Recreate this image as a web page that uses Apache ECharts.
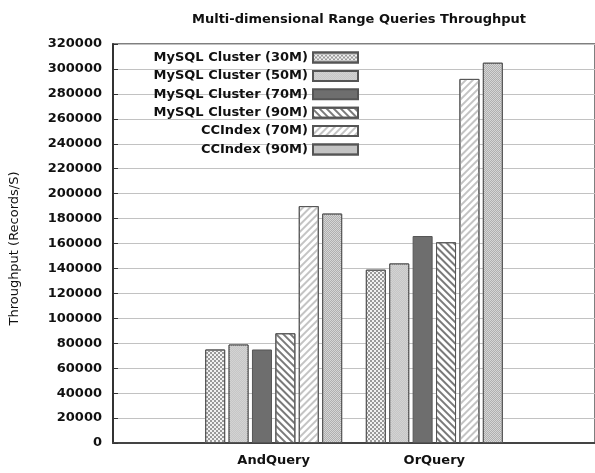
<!DOCTYPE html>
<html>
<head>
<meta charset="utf-8">
<script src="https://cdn.jsdelivr.net/npm/echarts@6/dist/echarts.min.js"></script>
<style>html,body{margin:0;padding:0;background:#fff;}#c{width:595px;height:473px;}</style>
</head>
<body>
<div id="c"></div>
<script>
const categories = ['AndQuery', 'OrQuery'];
const seriesNames = ['MySQL Cluster (30M)', 'MySQL Cluster (50M)', 'MySQL Cluster (70M)', 'MySQL Cluster (90M)', 'CCIndex (70M)', 'CCIndex (90M)'];
const mysql30 = [75000, 139000];
const mysql50 = [79000, 144000];
const mysql70 = [75000, 166000];
const mysql90 = [88000, 161000];
const ccindex70 = [190000, 292000];
const ccindex90 = [184000, 305000];
const yMin = 0, yMax = 320000, yStep = 20000;

const values = [mysql30, mysql50, mysql70, mysql90, ccindex70, ccindex90];
const styles = [
  { color: '#f2f2f2', decal: { symbol: 'rect', symbolSize: 1, color: '#9a9a9a', dashArrayX: [[2, 2], [0, 2, 2, 0]], dashArrayY: [2, 0], rotation: 0 } },
  { color: '#d3d3d3', decal: { symbol: 'rect', symbolSize: 1, color: '#c6c6c6', dashArrayX: [[1, 1], [0, 1, 1, 0]], dashArrayY: [1, 0], rotation: 0 } },
  { color: '#6e6e6e', decal: null },
  { color: '#ffffff', decal: { symbol: 'rect', symbolSize: 1, color: '#7a7a7a', dashArrayX: [1, 0], dashArrayY: [1.6, 2.4], rotation: Math.PI / 4 } },
  { color: '#ffffff', decal: { symbol: 'rect', symbolSize: 1, color: '#c4c4c4', dashArrayX: [1, 0], dashArrayY: [1.4, 3], rotation: -Math.PI / 4 } },
  { color: '#d6d6d6', decal: { symbol: 'rect', symbolSize: 1, color: '#b0b0b0', dashArrayX: [[1, 1], [0, 1, 1, 0]], dashArrayY: [1, 0], rotation: 0 } }
];

const chart = echarts.init(document.getElementById('c'), null, { renderer: 'canvas' });
const series = seriesNames.map((name, i) => ({
  name: name,
  type: 'bar',
  barWidth: 20,
  barGap: '17%',
  data: categories.map((c, j) => [j, values[i][j]]),
  itemStyle: Object.assign({ color: styles[i].color, borderColor: '#555', borderWidth: 1 }, styles[i].decal ? { decal: styles[i].decal } : {}),
  emphasis: { disabled: true }
}));

chart.setOption({
  animation: false,
  backgroundColor: '#ffffff',
  title: {
    text: 'Multi-dimensional Range Queries Throughput',
    left: 354, top: 8, textAlign: 'center',
    textStyle: { fontFamily: 'DejaVu Sans', fontSize: 13, fontWeight: 'bold', color: '#111' }
  },
  grid: { left: 113, top: 44, width: 486, height: 399, show: true, borderColor: '#555', borderWidth: 1.5, containLabel: false },
  legend: {
    orient: 'vertical', align: 'right', right: 236, top: 51, padding: 0,
    itemWidth: 45, itemHeight: 10, itemGap: 5.4, icon: 'rect',
    textStyle: { fontFamily: 'DejaVu Sans', fontSize: 13, fontWeight: 'bold', color: '#111' },
    data: seriesNames
  },
  xAxis: {
    type: 'value', min: -1, max: 2, interval: 1,
    axisLine: { show: true, onZero: false, lineStyle: { color: '#444', width: 2 } },
    axisTick: { show: false },
    splitLine: { show: false },
    axisLabel: {
      margin: 11, showMaxLabel: false,
      fontFamily: 'DejaVu Sans', fontSize: 13, fontWeight: 'bold', color: '#111',
      formatter: v => (v >= 0 && v < categories.length && Math.round(v) === v) ? categories[v] : ''
    }
  },
  yAxis: {
    type: 'value', min: yMin, max: yMax, interval: yStep,
    name: 'Throughput (Records/S)', nameLocation: 'middle', nameGap: 92,
    nameTextStyle: { fontFamily: 'DejaVu Sans', fontSize: 13, color: '#111', padding: [0, 10, 0, 0] },
    axisLine: { show: true, onZero: false, lineStyle: { color: '#333', width: 2 } },
    axisTick: { show: true, inside: true, length: 5, lineStyle: { color: '#333' } },
    splitLine: { show: true, lineStyle: { color: '#c2c2c2', width: 1.2 } },
    axisLabel: {
      margin: 11,
      fontFamily: 'DejaVu Sans', fontSize: 13, fontWeight: 'bold', color: '#111',
      formatter: v => String(v)
    }
  },
  series: series
});
</script>
</body>
</html>
